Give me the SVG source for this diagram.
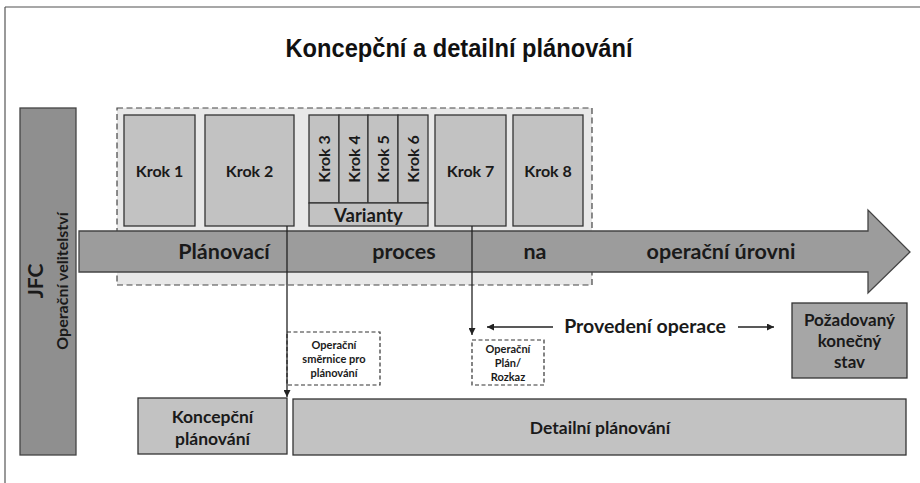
<svg xmlns="http://www.w3.org/2000/svg" width="920" height="483" viewBox="0 0 920 483">
<defs>
<style>
.t{font-family:Lato,"Open Sans","DejaVu Sans",sans-serif;font-weight:bold;fill:#1a1a1a;text-anchor:middle}
.box{fill:#c2c2c2;stroke:#333;stroke-width:1.3}
.dash{fill:none;stroke:#333;stroke-width:1.2;stroke-dasharray:4,2.5}
.con{stroke:#222;stroke-width:1.3;fill:none}
</style>
<marker id="ah" viewBox="0 0 10 10" refX="10" refY="5" markerWidth="7" markerHeight="7" markerUnits="userSpaceOnUse" orient="auto">
<path d="M0,0 L10,5 L0,10 z" fill="#222"/>
</marker>
</defs>
<rect width="920" height="483" fill="#fff"/>
<g id="frame">
<line x1="5" y1="7" x2="920" y2="7" stroke="#8a8a8a" stroke-width="1.5"/>
<line x1="5" y1="7" x2="5" y2="483" stroke="#555" stroke-width="1.2"/>
</g>
<text x="459" y="57" font-family="'Liberation Sans',Arial,sans-serif" font-weight="bold" font-size="25" text-anchor="middle" textLength="347" lengthAdjust="spacingAndGlyphs" fill="#111">Koncepční a detailní plánování</text>

<g id="jfc">
<rect x="20" y="108" width="56" height="347" fill="#8f8f8f" stroke="#444" stroke-width="1.3"/>
<text class="t" transform="translate(43,281) rotate(-90)" font-size="21">JFC</text>
<text class="t" transform="translate(68,281) rotate(-90)" font-size="16">Operační velitelství</text>
</g>

<g id="container">
<rect x="117" y="108" width="475" height="177" fill="#e8e8e8" stroke="#444" stroke-width="1.2" stroke-dasharray="6,3.5"/>
</g>

<g id="krok1"><rect class="box" x="124" y="115" width="71" height="111"/><text class="t" x="159.5" y="177" font-size="16">Krok 1</text></g>
<g id="krok2"><rect class="box" x="205" y="115" width="89" height="111"/><text class="t" x="249.5" y="177" font-size="16">Krok 2</text></g>
<g id="krok3"><rect class="box" x="309" y="115" width="30" height="88"/><text class="t" transform="translate(330,159) rotate(-90)" font-size="16">Krok 3</text></g>
<g id="krok4"><rect class="box" x="339" y="115" width="29" height="88"/><text class="t" transform="translate(359.5,159) rotate(-90)" font-size="16">Krok 4</text></g>
<g id="krok5"><rect class="box" x="368" y="115" width="30" height="88"/><text class="t" transform="translate(389,159) rotate(-90)" font-size="16">Krok 5</text></g>
<g id="krok6"><rect class="box" x="398" y="115" width="30" height="88"/><text class="t" transform="translate(419,159) rotate(-90)" font-size="16">Krok 6</text></g>
<g id="varianty"><rect class="box" x="309" y="203" width="119" height="23"/><text class="t" x="368.5" y="222" font-size="18.5">Varianty</text></g>
<g id="krok7"><rect class="box" x="435" y="115" width="71" height="111"/><text class="t" x="470.5" y="177" font-size="16">Krok 7</text></g>
<g id="krok8"><rect class="box" x="513" y="115" width="70" height="111"/><text class="t" x="548" y="177" font-size="16">Krok 8</text></g>

<g id="process-arrow">
<polygon points="79,231 868,231 868,210 910,252 868,293 868,272 79,272" fill="#9c9c9c" stroke="#444" stroke-width="1.3"/>
<text class="t" x="224" y="259" font-size="21.5">Plánovací</text>
<text class="t" x="404" y="259" font-size="21.5">proces</text>
<text class="t" x="535" y="259" font-size="21.5">na</text>
<text class="t" x="721" y="259" font-size="21.5">operační úrovni</text>
</g>

<g id="smernice">
<rect class="dash" x="287" y="332" width="93" height="53"/>
<text class="t" x="334" y="349" font-size="11" fill="#333">Operační</text>
<text class="t" x="334" y="363" font-size="11" fill="#333">směrnice pro</text>
<text class="t" x="334" y="377" font-size="11" fill="#333">plánování</text>
</g>

<g id="plan">
<rect class="dash" x="472" y="340" width="72" height="45"/>
<text class="t" x="508" y="353" font-size="11" fill="#333">Operační</text>
<text class="t" x="508" y="367" font-size="11" fill="#333">Plán/</text>
<text class="t" x="508" y="381" font-size="11" fill="#333">Rozkaz</text>
</g>

<g id="provedeni">
<text class="t" x="645" y="333" font-size="19.5">Provedení operace</text>
</g>

<g id="pozadovany">
<rect x="792" y="303" width="115" height="75" fill="#a6a6a6" stroke="#333" stroke-width="1.3"/>
<text class="t" x="849.5" y="326" font-size="17">Požadovaný</text>
<text class="t" x="849.5" y="347" font-size="17">konečný</text>
<text class="t" x="849.5" y="368" font-size="17">stav</text>
</g>

<g id="koncepcni">
<rect class="box" x="138" y="398" width="149" height="56"/>
<text class="t" x="212.5" y="423" font-size="17.5">Koncepční</text>
<text class="t" x="212.5" y="445" font-size="17.5">plánování</text>
</g>

<g id="detailni">
<rect class="box" x="293" y="399" width="613" height="56"/>
<text class="t" x="600" y="434" font-size="17.5">Detailní plánování</text>
</g>

<g id="connectors">
<line class="con" x1="287" y1="226" x2="287" y2="397" marker-end="url(#ah)"/>
<line class="con" x1="472" y1="226" x2="472" y2="335" marker-end="url(#ah)"/>
<line class="con" x1="553" y1="327" x2="487" y2="327" marker-end="url(#ah)"/>
<line class="con" x1="738" y1="327" x2="774" y2="327" marker-end="url(#ah)"/>
</g>
</svg>
